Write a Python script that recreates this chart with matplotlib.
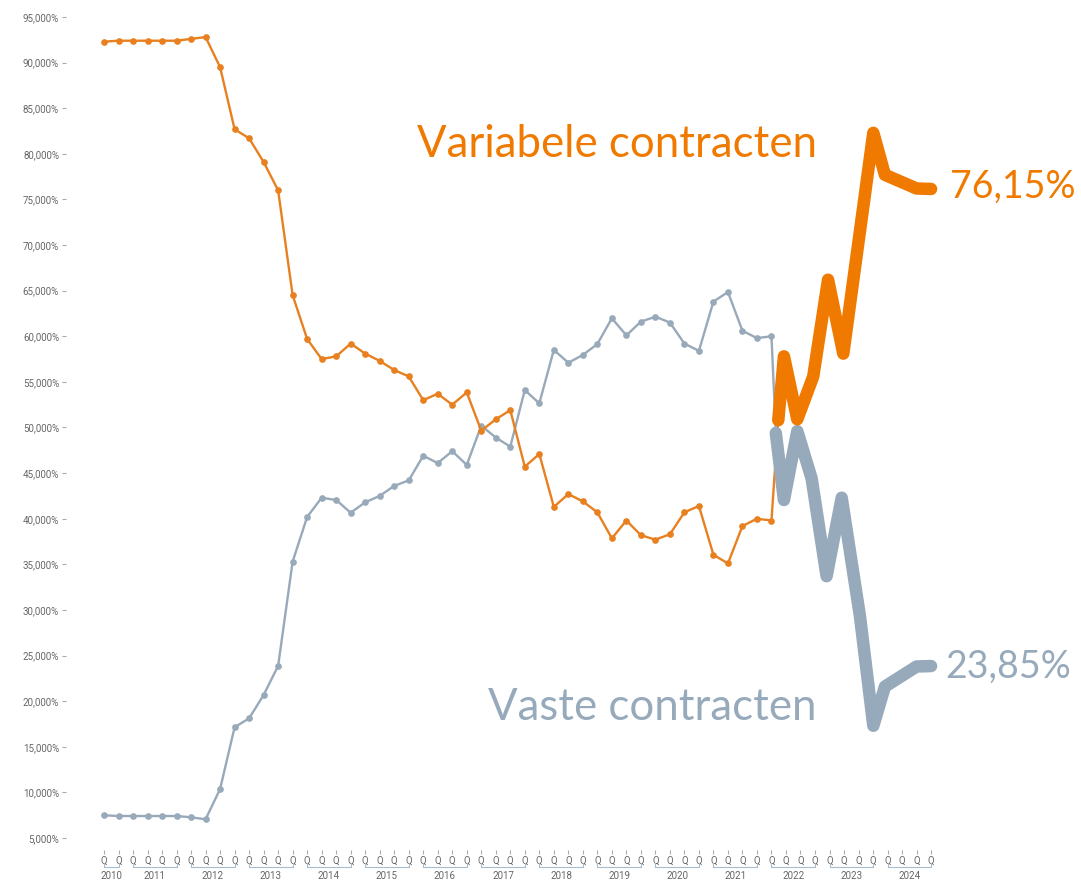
import numpy as np
import matplotlib
matplotlib.use("Agg")
import matplotlib.pyplot as plt

# share of variable vs fixed contracts per quarter (2010 Q3 .. 2022 Q1), in %
variabel = [92.3, 92.4, 92.4, 92.4, 92.4, 92.4, 92.6, 92.8, 89.5, 82.7,
            81.7, 79.1, 76.0, 64.5, 59.7, 57.5, 57.8, 59.2, 58.1, 57.3,
            56.3, 55.6, 53.0, 53.7, 52.5, 53.85, 49.65, 50.9, 51.9, 45.7,
            47.1, 41.3, 42.7, 41.9, 40.7, 37.85, 39.8, 38.2, 37.7, 38.3,
            40.7, 41.4, 36.05, 35.1, 39.2, 40.0, 39.8]
vast = [7.49, 7.41, 7.41, 7.41, 7.41, 7.41, 7.27, 7.05, 10.37, 17.14,
        18.12, 20.68, 23.86, 35.3, 40.2, 42.3, 42.05, 40.66, 41.8, 42.5,
        43.6, 44.2, 46.9, 46.1, 47.4, 45.9, 50.2, 48.9, 47.9, 54.1,
        52.65, 58.5, 57.1, 57.95, 59.15, 61.97, 60.1, 61.6, 62.15, 61.5,
        59.2, 58.4, 63.8, 64.85, 60.6, 59.8, 60.0]

# highlighted recent period (x in quarter index, hand-drawn overlay)
var_hl_x = [46.47, 46.86, 47.78, 48.88, 49.9, 50.95, 53.02, 53.82, 56.0, 57.0]
var_hl = [50.8, 57.8, 50.9, 55.6, 66.2, 58.1, 82.3, 77.7, 76.2, 76.15]
vast_hl_x = [46.3, 46.86, 47.78, 48.77, 49.8, 50.84, 52.1, 53.02, 53.82, 56.0, 57.0]
vast_hl = [49.4, 42.05, 49.6, 44.4, 33.7, 42.3, 29.3, 17.3, 21.6, 23.8, 23.85]

years = list(range(2010, 2025))
quarters_per_year = [2] + [4] * 14
yticks = list(range(5, 100, 5))

ORANGE = "#e8801f"
ORANGE_HL = "#f07a00"
GREY = "#98a9b9"
GREY_HL = "#97aabb"

W, H = 1081, 881
fig = plt.figure(figsize=(W / 100, H / 100), dpi=100)
ax = fig.add_axes([66 / W, 1 - 850 / H, (945 - 66) / W, (850 - 17) / H])
ax.set_ylim(5 - 12 / 9.122, 95)
ax.set_xlim(-2.62, 57.96)

q = np.arange(len(variabel))
ax.plot(q, vast, color=GREY, lw=1.7, marker="o", ms=3.8, zorder=2)
ax.plot(q, variabel, color=ORANGE, lw=1.7, marker="o", ms=3.8, zorder=3)
# thin link into the highlighted part
ax.plot([q[-1], vast_hl_x[0]], [vast[-1], vast_hl[0]], color=GREY, lw=1.7, zorder=2)
ax.plot([q[-1], var_hl_x[0]], [variabel[-1], var_hl[0]], color=ORANGE, lw=1.7, zorder=3)

ax.plot(vast_hl_x, vast_hl, color=GREY_HL, lw=9, solid_capstyle="round",
        solid_joinstyle="round", zorder=4, clip_on=False)
ax.plot(var_hl_x, var_hl, color=ORANGE_HL, lw=9, solid_capstyle="round",
        solid_joinstyle="round", zorder=5, clip_on=False)

for s in ax.spines.values():
    s.set_visible(False)

ax.set_yticks(yticks)
ax.set_yticklabels([f"{v:.3f}%".replace(".", ",") for v in yticks])
n_q = sum(quarters_per_year)
ax.set_xticks(range(n_q))
ax.set_xticklabels(["Q"] * n_q)
ax.tick_params(axis="both", colors="#aaaaaa", labelcolor="#666666",
               labelsize=7, length=3, width=0.8)
ax.tick_params(axis="y", pad=2)
ax.tick_params(axis="x", pad=1.5)
for lab in ax.get_xticklabels() + ax.get_yticklabels():
    lab.set_fontfamily("Roboto")

# year brackets under the quarter labels
trans = ax.get_xaxis_transform()
ah = 850 - 17
start = 0
for yr, nq in zip(years, quarters_per_year):
    a, b = start, start + nq - 1
    f_line = -(867 - 850) / ah
    f_tick = -(863 - 850) / ah
    ax.plot([a, a, b, b], [f_tick, f_line, f_line, f_tick], transform=trans,
            color="#a9bccd", lw=0.8, clip_on=False)
    ax.text((a + b) / 2, -(876 - 850) / ah, str(yr), transform=trans,
            ha="center", va="center", fontsize=7, color="#666666",
            family="Roboto")
    start += nq

fig.text(817 / W, 1 - 157 / H, "Variabele contracten", color=ORANGE_HL,
         fontsize=31.5, family="Lato", ha="right", va="baseline")
fig.text(817 / W, 1 - 720 / H, "Vaste contracten", color=GREY_HL,
         fontsize=31.5, family="Lato", ha="right", va="baseline")
fig.text(950 / W, 1 - 187 / H, f"{var_hl[-1]:.2f}%".replace(".", ","),
         color=ORANGE_HL, fontsize=27, family="Lato", ha="left", va="center")
fig.text(945 / W, 1 - 667 / H, f"{vast_hl[-1]:.2f}%".replace(".", ","),
         color=GREY_HL, fontsize=27, family="Lato", ha="left", va="center")

fig.savefig("out.png", dpi=100)
